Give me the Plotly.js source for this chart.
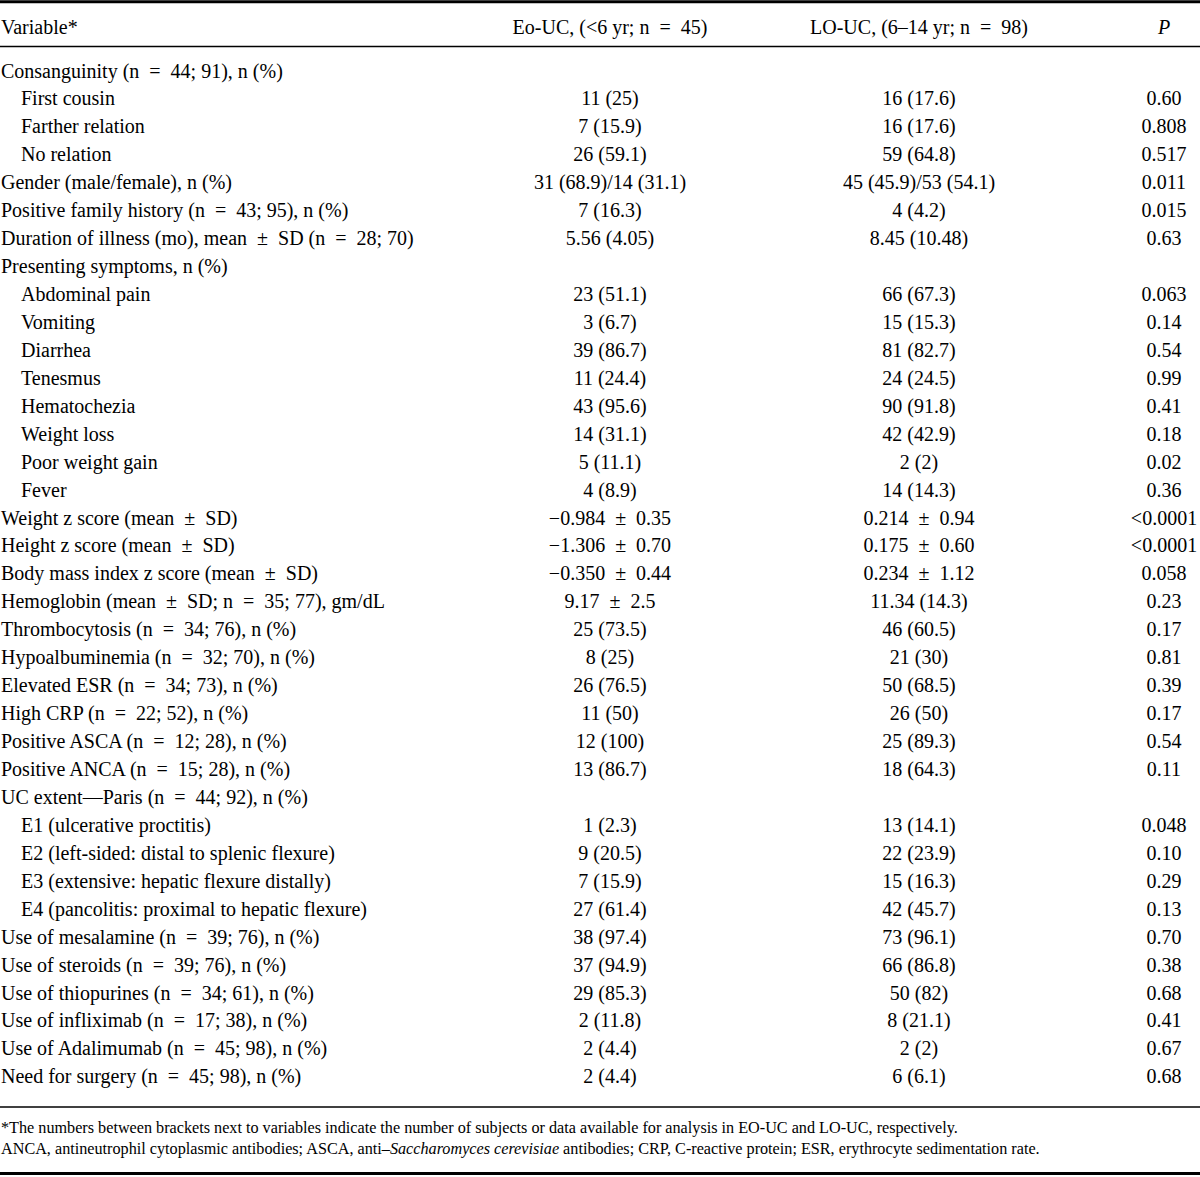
<!DOCTYPE html>
<html>
<head>
<meta charset="utf-8">
<script src="https://cdn.plot.ly/plotly-3.0.1.min.js"></script>
<style>html,body{margin:0;padding:0;background:#fff;}#chart{width:1200px;height:1177px;}</style>
</head>
<body>
<div id="chart"></div>
<script>
// ---- Data ----
const headers = ["Variable*", "Eo-UC, (<6 yr; n = 45)", "LO-UC, (6–14 yr; n = 98)", "<i>P</i>"];

const variables = [
  "Consanguinity (n = 44; 91), n (%)",
  "First cousin",
  "Farther relation",
  "No relation",
  "Gender (male/female), n (%)",
  "Positive family history (n = 43; 95), n (%)",
  "Duration of illness (mo), mean ± SD (n = 28; 70)",
  "Presenting symptoms, n (%)",
  "Abdominal pain",
  "Vomiting",
  "Diarrhea",
  "Tenesmus",
  "Hematochezia",
  "Weight loss",
  "Poor weight gain",
  "Fever",
  "Weight z score (mean ± SD)",
  "Height z score (mean ± SD)",
  "Body mass index z score (mean ± SD)",
  "Hemoglobin (mean ± SD; n = 35; 77), gm/dL",
  "Thrombocytosis (n = 34; 76), n (%)",
  "Hypoalbuminemia (n = 32; 70), n (%)",
  "Elevated ESR (n = 34; 73), n (%)",
  "High CRP (n = 22; 52), n (%)",
  "Positive ASCA (n = 12; 28), n (%)",
  "Positive ANCA (n = 15; 28), n (%)",
  "UC extent—Paris (n = 44; 92), n (%)",
  "E1 (ulcerative proctitis)",
  "E2 (left-sided: distal to splenic flexure)",
  "E3 (extensive: hepatic flexure distally)",
  "E4 (pancolitis: proximal to hepatic flexure)",
  "Use of mesalamine (n = 39; 76), n (%)",
  "Use of steroids (n = 39; 76), n (%)",
  "Use of thiopurines (n = 34; 61), n (%)",
  "Use of infliximab (n = 17; 38), n (%)",
  "Use of Adalimumab (n = 45; 98), n (%)",
  "Need for surgery (n = 45; 98), n (%)"
];

// 1 = indented sub-item
const subLevel = [0,1,1,1,0,0,0,0,1,1,1,1,1,1,1,1,0,0,0,0,0,0,0,0,0,0,0,1,1,1,1,0,0,0,0,0,0];

const eoUC = [
  "", "11 (25)", "7 (15.9)", "26 (59.1)", "31 (68.9)/14 (31.1)", "7 (16.3)", "5.56 (4.05)",
  "", "23 (51.1)", "3 (6.7)", "39 (86.7)", "11 (24.4)", "43 (95.6)", "14 (31.1)", "5 (11.1)", "4 (8.9)",
  "−0.984 ± 0.35", "−1.306 ± 0.70", "−0.350 ± 0.44", "9.17 ± 2.5",
  "25 (73.5)", "8 (25)", "26 (76.5)", "11 (50)", "12 (100)", "13 (86.7)",
  "", "1 (2.3)", "9 (20.5)", "7 (15.9)", "27 (61.4)",
  "38 (97.4)", "37 (94.9)", "29 (85.3)", "2 (11.8)", "2 (4.4)", "2 (4.4)"
];

const loUC = [
  "", "16 (17.6)", "16 (17.6)", "59 (64.8)", "45 (45.9)/53 (54.1)", "4 (4.2)", "8.45 (10.48)",
  "", "66 (67.3)", "15 (15.3)", "81 (82.7)", "24 (24.5)", "90 (91.8)", "42 (42.9)", "2 (2)", "14 (14.3)",
  "0.214 ± 0.94", "0.175 ± 0.60", "0.234 ± 1.12", "11.34 (14.3)",
  "46 (60.5)", "21 (30)", "50 (68.5)", "26 (50)", "25 (89.3)", "18 (64.3)",
  "", "13 (14.1)", "22 (23.9)", "15 (16.3)", "42 (45.7)",
  "73 (96.1)", "66 (86.8)", "50 (82)", "8 (21.1)", "2 (2)", "6 (6.1)"
];

const pValues = [
  "", "0.60", "0.808", "0.517", "0.011", "0.015", "0.63",
  "", "0.063", "0.14", "0.54", "0.99", "0.41", "0.18", "0.02", "0.36",
  "<0.0001", "<0.0001", "0.058", "0.23",
  "0.17", "0.81", "0.39", "0.17", "0.54", "0.11",
  "", "0.048", "0.10", "0.29", "0.13",
  "0.70", "0.38", "0.68", "0.41", "0.67", "0.68"
];

const footnotes = [
  "*The numbers between brackets next to variables indicate the number of subjects or data available for analysis in EO-UC and LO-UC, respectively.",
  "ANCA, antineutrophil cytoplasmic antibodies; ASCA, anti–<i>Saccharomyces cerevisiae</i> antibodies; CRP, C-reactive protein; ESR, erythrocyte sedimentation rate."
];

// ---- Presentation helpers ----
// typeset-style spacing around operators, and escape "<" that is not a tag
const fmt = s => s
  .replace(/<(?![\/]?i>)/g, "&lt;")
  .replace(/ ([=±]) /g, "\u2002$1\u2002");

// ---- Layout (pixel coordinate system) ----
const W = 1200, H = 1177;
const firstRowY = 72.5, rowPitch = 27.94;
const headerY = 28.5;
const colX = {label: 1, indent: 21, eo: 610, lo: 919, p: 1164};
const footY = [1128.5, 1149.5];
const FONT = "'Liberation Serif', 'Times New Roman', serif";
const fs = 20;

const rowY = variables.map((_, i) => firstRowY + i * rowPitch);

const traces = [];
const txt = (x, y, text, pos, size) => ({
  type: "scatter", mode: "text", x, y, text: text.map(fmt),
  textposition: pos, hoverinfo: "skip", showlegend: false,
  textfont: {family: FONT, size: size || fs, color: "#000"}
});

// labels and cells
traces.push(txt(variables.map((_, i) => subLevel[i] ? colX.indent : colX.label), rowY, variables, "middle right"));
traces.push(txt(rowY.map(() => colX.eo), rowY, eoUC, "middle center"));
traces.push(txt(rowY.map(() => colX.lo), rowY, loUC, "middle center"));
traces.push(txt(rowY.map(() => colX.p), rowY, pValues, "middle center"));
// headers
traces.push(txt([colX.label], [headerY], [headers[0]], "middle right"));
traces.push(txt([colX.eo, colX.lo, colX.p], [headerY, headerY, headerY], headers.slice(1), "middle center"));
// footnotes
traces.push(txt(footnotes.map(() => colX.label), footY, footnotes, "middle right", 16.2));

const hline = (y, w) => ({type: "line", xref: "x", yref: "y", x0: 0, x1: W, y0: y, y1: y, line: {color: "#000", width: w}});

const layout = {
  width: W, height: H,
  margin: {l: 0, r: 0, t: 0, b: 0},
  paper_bgcolor: "#fff", plot_bgcolor: "#fff",
  xaxis: {range: [0, W], visible: false, fixedrange: true},
  yaxis: {range: [H, 0], visible: false, fixedrange: true},
  shapes: [hline(1.8, 3), hline(46.5, 1.5), hline(1107, 1.5), hline(1173.5, 3)],
  showlegend: false
};

Plotly.newPlot("chart", traces, layout, {staticPlot: true, displayModeBar: false});
</script>
</body>
</html>
